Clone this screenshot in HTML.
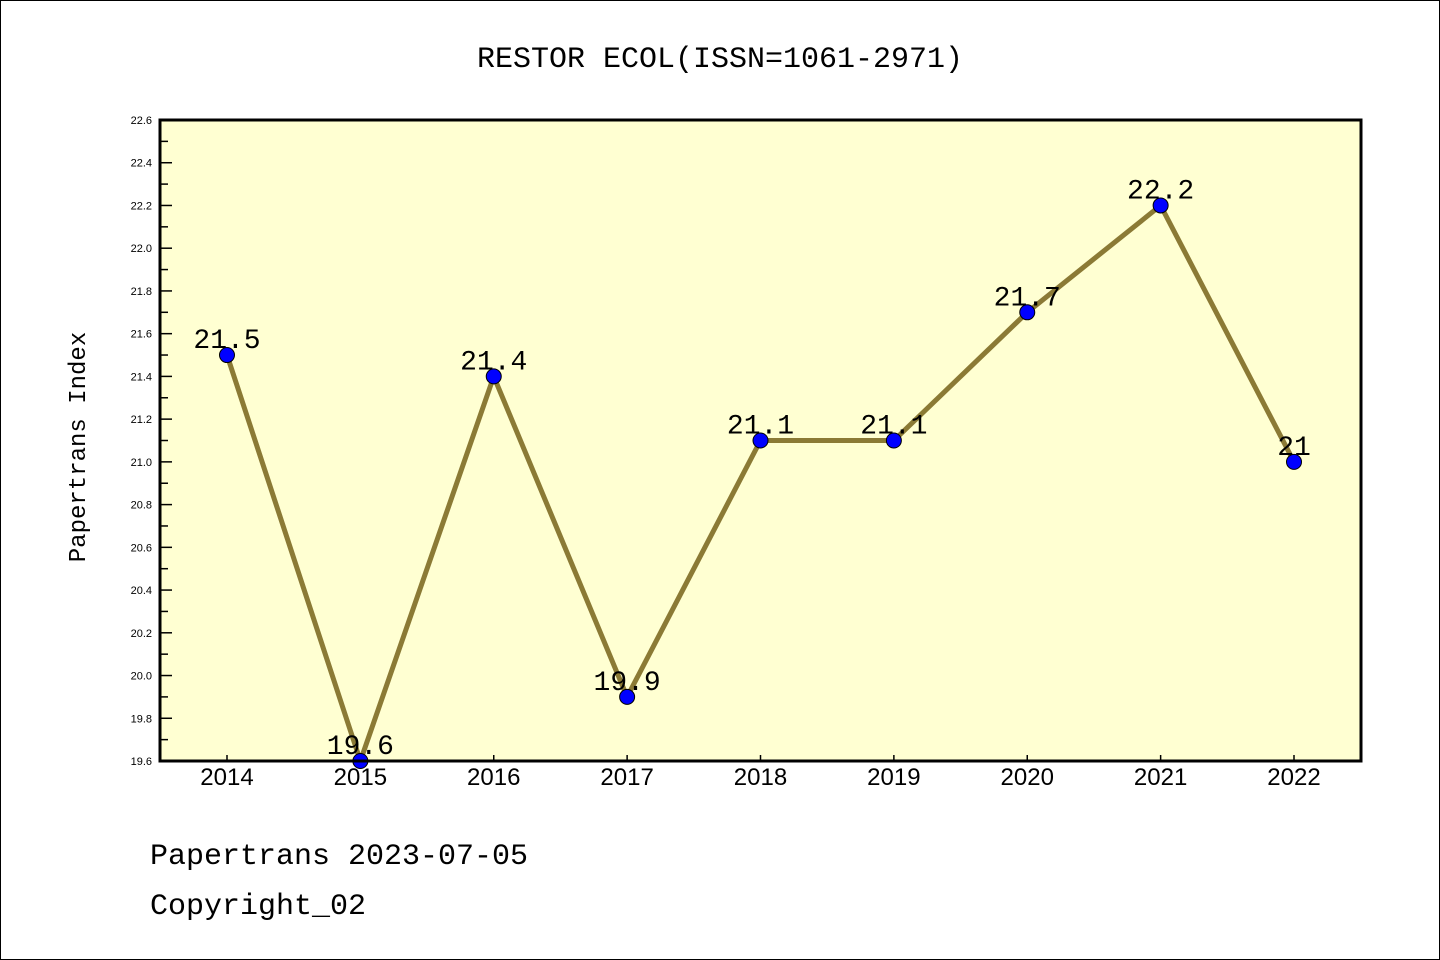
<!DOCTYPE html>
<html><head><meta charset="utf-8"><style>
body{margin:0;background:#fff}
svg{display:block}
text{font-family:"Liberation Mono","DejaVu Sans Mono",monospace}
</style></head><body>
<svg id="chart" width="1440" height="960" xmlns="http://www.w3.org/2000/svg">
<rect x="0.5" y="0.5" width="1439" height="959" fill="#fff" stroke="#000"/>
<text x="720" y="67" font-size="30" text-anchor="middle">RESTOR ECOL(ISSN=1061-2971)</text>
<rect x="160" y="120" width="1201" height="641" fill="#ffffd2"/>
<g id="axes"></g>
<g id="series"></g>
<rect x="160" y="120" width="1201" height="641" fill="none" stroke="#000" stroke-width="3"/>
<text transform="translate(85,447) rotate(-90)" font-size="24" text-anchor="middle">Papertrans Index</text>
<text x="150" y="864" font-size="30">Papertrans 2023-07-05</text>
<text x="150" y="914" font-size="30">Copyright_02</text>
</svg>
<script>
const categories=["2014","2015","2016","2017","2018","2019","2020","2021","2022"];
const values=[21.5,19.6,21.4,19.9,21.1,21.1,21.7,22.2,21.0];
const valueLabels=["21.5","19.6","21.4","19.9","21.1","21.1","21.7","22.2","21"];
const yTicks=["19.6","19.8","20.0","20.2","20.4","20.6","20.8","21.0","21.2","21.4","21.6","21.8","22.0","22.2","22.4","22.6"];
const yMin=19.6,yMax=22.6,yTop=120,yBot=761,xLeft=160;
const NS="http://www.w3.org/2000/svg";
const ys=v=>yBot-(v-yMin)/(yMax-yMin)*(yBot-yTop);
const xs=i=>227+i*(1294-227)/(categories.length-1);
function mk(t,a,p){const e=document.createElementNS(NS,t);for(const k in a)e.setAttribute(k,a[k]);p.appendChild(e);return e;}
const ax=document.getElementById('axes'),se=document.getElementById('series');
yTicks.forEach(t=>{const v=parseFloat(t),yy=ys(v);
 const l=mk('line',{x1:xLeft,x2:xLeft+12,y1:yy,y2:yy,stroke:'#000','stroke-width':1.5},ax);
 
 
 const tx=mk('text',{x:152,y:yy+4,'font-size':11,'text-anchor':'end',style:'font-family:"Liberation Sans",sans-serif'},ax);
 tx.textContent=t;
 
 
 if(v<yMax-0.01){const ym=ys(v+0.1);const m=mk('line',{x1:xLeft,x2:xLeft+8,y1:ym,y2:ym,stroke:'#000','stroke-width':1.5},ax);
 
 }
});
categories.forEach((c,i)=>{
 const l=mk('line',{x1:xs(i),x2:xs(i),y1:yBot,y2:yBot-6,stroke:'#000','stroke-width':1.5},ax);
 
 
 const t=mk('text',{x:xs(i),y:785,'font-size':24,'text-anchor':'middle',style:'font-family:"Liberation Sans",sans-serif'},ax);
 t.textContent=c;
 
 
});
const pl=mk('polyline',{points:values.map((v,i)=>xs(i)+','+ys(v)).join(' '),fill:'none',stroke:'#8b7a35','stroke-width':5,'stroke-linejoin':'round'},se);


values.forEach((v,i)=>{
 const c=mk('circle',{cx:xs(i),cy:ys(v),r:7.5,fill:'#0000ff',stroke:'#000','stroke-width':1},se);
 
 
 const t=mk('text',{x:xs(i),y:ys(v)-7,'font-size':28,'text-anchor':'middle'},se);
 t.textContent=valueLabels[i];
 
 
});
</script>
</body></html>
